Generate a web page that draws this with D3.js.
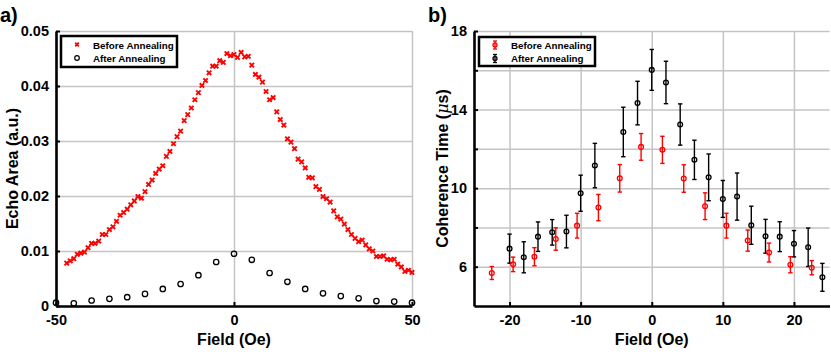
<!DOCTYPE html>
<html>
<head>
<meta charset="utf-8">
<script src="https://cdn.jsdelivr.net/npm/d3@7"></script>
<style>
  body { margin: 0; background: #fff; }
  svg text { font-family: "Liberation Sans", Arial, Helvetica, sans-serif; font-weight: bold; fill: #000; }
</style>
</head>
<body>
<svg width="831" height="354"></svg>
<script>
// panel a: echo area vs field
var beforeField = [-47,-46,-45,-44,-43,-42,-41,-40,-39,-38,-37,-36,-35,-34,-33,-32,-31,-30,-29,-28,
  -27,-26,-25,-24,-23,-22,-21,-20,-19,-18,-17,-16,-15,-14,-13,-12,-11,-10,-9,-8,-7,-6,-5,-4,-3,-2,-1,
  0,1,2,3,4,5,6,7,8,9,10,11,12,13,14,15,16,17,18,19,20,21,22,23,24,25,26,27,28,29,30,31,32,33,34,35,
  36,37,38,39,40,41,42,43,44,45,46,47,48,49,50];
var beforeArea = [0.0078,0.0082,0.0086,0.0094,0.0096,0.0098,0.0106,0.0114,0.0114,0.0118,0.0130,0.0130,
  0.0139,0.0144,0.0154,0.0165,0.0170,0.0176,0.0184,0.0191,0.0199,0.0196,0.0208,0.0221,0.0229,0.0241,
  0.0249,0.0255,0.0272,0.0281,0.0295,0.0308,0.0318,0.0337,0.0348,0.0360,0.0375,0.0388,0.0401,0.0410,
  0.0424,0.0436,0.0436,0.0446,0.0443,0.0459,0.0455,0.0457,0.0452,0.0461,0.0453,0.0454,0.0438,0.0421,
  0.0416,0.0407,0.0390,0.0375,0.0379,0.0353,0.0339,0.0329,0.0304,0.0298,0.0286,0.0267,0.0262,0.0251,
  0.0234,0.0233,0.0217,0.0212,0.0199,0.0195,0.0189,0.0173,0.0162,0.0158,0.0149,0.0139,0.0130,0.0123,
  0.0117,0.0120,0.0111,0.0104,0.0100,0.0090,0.0090,0.0091,0.0085,0.0084,0.0085,0.0076,0.0071,0.0063,
  0.0065,0.0061];
var afterField = [-50,-45,-40,-35,-30,-25,-20,-15,-10,-5,0,5,10,15,20,25,30,35,40,45,50];
var afterArea = [0.0006,0.0005,0.0010,0.0013,0.0016,0.0022,0.0031,0.0040,0.0056,0.0080,0.0095,
  0.0084,0.0060,0.0044,0.0031,0.0023,0.0018,0.0014,0.0009,0.0008,0.0006];
var areaTicks = [0, 0.01, 0.02, 0.03, 0.04, 0.05];
var fieldTicksA = [-50, 0, 50];

// panel b: coherence time vs field
var beforeT2Field = [-22.5,-19.5,-16.5,-13.5,-10.5,-7.5,-4.5,-1.5,1.5,4.5,7.5,10.5,13.5,16.5,19.5,22.5];
var beforeT2 = [5.68,6.12,6.51,7.41,8.09,9.01,10.5,12.1,11.95,10.49,9.08,8.09,7.33,6.72,6.1,5.95];
var beforeT2Err = [0.33,0.37,0.46,0.57,0.63,0.67,0.7,0.68,0.69,0.7,0.68,0.63,0.54,0.48,0.41,0.36];
var afterT2Field = [-20,-18,-16,-14,-12,-10,-8,-4,-2,0,2,4,6,8,10,12,14,16,18,20,22,24];
var afterT2 = [6.92,6.48,7.53,7.75,7.79,9.74,11.15,12.86,14.33,16.02,15.38,13.24,11.44,10.55,9.45,
  9.57,8.11,7.55,7.53,7.17,6.99,5.46];
var afterT2Err = [0.74,0.79,0.75,0.65,0.83,0.92,1.13,1.26,1.11,1.04,1.08,1.05,1.0,1.19,0.94,1.2,
  0.97,0.86,0.76,0.67,0.98,0.71];
var timeTicks = [6, 8, 10, 12, 14, 16, 18];
var timeLabels = [6, 10, 14, 18];
var fieldTicksB = [-20, -10, 0, 10, 20];

var seriesNames = ["Before Annealing", "After Annealing"];

var svg = d3.select("svg");
var gridColor = "#c4c4c4";

function drawFrame(x, y, xTicks, yTicks, xLabel, yLabel, yLabelX) {
  // grid
  svg.append("g")
    .attr("transform", "translate(" + x.range()[0] + ",0)")
    .call(d3.axisLeft(y).tickValues(yTicks).tickSize(-(x.range()[1] - x.range()[0])).tickFormat(""))
    .call(function(g) { g.select(".domain").remove(); })
    .selectAll("line").attr("stroke", gridColor).attr("stroke-width", 1.5);
  svg.append("g")
    .attr("transform", "translate(0," + y.range()[0] + ")")
    .call(d3.axisBottom(x).tickValues(xTicks).tickSize(-(y.range()[0] - y.range()[1])).tickFormat(""))
    .call(function(g) { g.select(".domain").remove(); })
    .selectAll("line").attr("stroke", gridColor).attr("stroke-width", 1.5);

  // axis labels
  svg.append("text")
    .attr("x", (x.range()[0] + x.range()[1]) / 2)
    .attr("y", 345)
    .attr("text-anchor", "middle")
    .style("font-size", "16px")
    .text(xLabel);
  var yl = svg.append("text")
    .attr("transform", "translate(" + yLabelX + "," + (y.range()[0] + y.range()[1]) / 2 + ")rotate(-90)")
    .attr("text-anchor", "middle")
    .style("font-size", "16px");
  yLabel(yl);
}

// plain hyphen for negatives, like the original figure
var fieldFormat = function(d) { return String(d); };

function drawAxes(x, y, xTicks, yTicks, yFormat) {
  var ax = svg.append("g")
    .attr("transform", "translate(" + x.range()[0] + ",0)")
    .call(d3.axisLeft(y).tickValues(yTicks).tickSizeInner(-4).tickSizeOuter(0).tickPadding(7).tickFormat(yFormat));
  var bx = svg.append("g")
    .attr("transform", "translate(0," + y.range()[0] + ")")
    .call(d3.axisBottom(x).tickValues(xTicks).tickSizeInner(-4).tickSizeOuter(0).tickPadding(9).tickFormat(fieldFormat));
  [ax, bx].forEach(function(g) {
    g.select(".domain").attr("stroke", "#000").attr("stroke-width", 2.6);
    g.selectAll(".tick line").attr("stroke", "#000").attr("stroke-width", 2);
    g.selectAll("text").attr("font-family", null).attr("font-size", null).style("font-size", "14.5px");
  });
}

function cross(sel, s) {
  sel.append("path")
    .attr("d", "M" + (-s) + "," + (-s) + "L" + s + "," + s + "M" + (-s) + "," + s + "L" + s + "," + (-s))
    .attr("stroke", "red").attr("stroke-width", 1.9).attr("fill", "none");
}

// ---------- panel a ----------
var xa = d3.scaleLinear().domain([-50, 50]).range([56, 412]);
var ya = d3.scaleLinear().domain([0, 0.05]).range([306, 31]);

drawFrame(xa, ya, fieldTicksA, areaTicks, "Field (Oe)", function(t) {
  t.text("Echo Area (a.u.)");
}, 18);

svg.append("g").selectAll("g")
  .data(beforeField.map(function(f, i) { return [f, beforeArea[i]]; }))
  .enter().append("g")
    .attr("transform", function(d) { return "translate(" + xa(d[0]) + "," + ya(d[1]) + ")"; })
    .each(function() { cross(d3.select(this), 2.2); });

svg.append("g").selectAll("circle")
  .data(afterField.map(function(f, i) { return [f, afterArea[i]]; }))
  .enter().append("circle")
    .attr("cx", function(d) { return xa(d[0]); })
    .attr("cy", function(d) { return ya(d[1]); })
    .attr("r", 2.7)
    .attr("fill", "none").attr("stroke", "#000").attr("stroke-width", 1.3);

drawAxes(xa, ya, fieldTicksA, areaTicks, function(d) { return d === 0 ? "0" : d3.format(".2f")(d); });

// legend a
svg.append("rect").attr("x", 61).attr("y", 36).attr("width", 116).attr("height", 31)
  .attr("fill", "#fff").attr("stroke", "#000").attr("stroke-width", 2.5);
cross(svg.append("g").attr("transform", "translate(77,44.5)"), 1.8);
svg.append("circle").attr("cx", 77).attr("cy", 58).attr("r", 2.3)
  .attr("fill", "none").attr("stroke", "#000").attr("stroke-width", 1.2);
svg.append("text").attr("x", 93).attr("y", 48.5).style("font-size", "9.8px").text(seriesNames[0]);
svg.append("text").attr("x", 93).attr("y", 62).style("font-size", "9.8px").text(seriesNames[1]);

svg.append("text").attr("x", 0).attr("y", 22).style("font-size", "20px").text("a)");

// ---------- panel b ----------
var xb = d3.scaleLinear().domain([-25, 25]).range([474, 829.5]);
var yb = d3.scaleLinear().domain([4, 18]).range([306, 31]);

drawFrame(xb, yb, fieldTicksB, timeTicks, "Field (Oe)", function(t) {
  t.append("tspan").text("Coherence Time (");
  t.append("tspan").style("font-style", "italic").style("font-weight", "normal")
    .attr("font-family", "DejaVu Serif").text("\u03bc");
  t.append("tspan").text("s)");
}, 448);

function errorBars(fields, vals, errs, color) {
  var data = fields.map(function(f, i) { return [f, vals[i], errs[i]]; });
  var g = svg.append("g").selectAll("g").data(data).enter().append("g")
    .attr("stroke", color).attr("stroke-width", 1.4).attr("fill", "none");
  g.append("line")
    .attr("x1", function(d) { return xb(d[0]); }).attr("x2", function(d) { return xb(d[0]); })
    .attr("y1", function(d) { return yb(d[1] + d[2]); }).attr("y2", function(d) { return yb(d[1] - d[2]); });
  g.append("line")
    .attr("x1", function(d) { return xb(d[0]) - 2.2; }).attr("x2", function(d) { return xb(d[0]) + 2.2; })
    .attr("y1", function(d) { return yb(d[1] + d[2]); }).attr("y2", function(d) { return yb(d[1] + d[2]); });
  g.append("line")
    .attr("x1", function(d) { return xb(d[0]) - 2.2; }).attr("x2", function(d) { return xb(d[0]) + 2.2; })
    .attr("y1", function(d) { return yb(d[1] - d[2]); }).attr("y2", function(d) { return yb(d[1] - d[2]); });
  g.append("circle")
    .attr("cx", function(d) { return xb(d[0]); })
    .attr("cy", function(d) { return yb(d[1]); })
    .attr("r", 2.4).attr("stroke-width", 1.3);
}

errorBars(afterT2Field, afterT2, afterT2Err, "#000");
errorBars(beforeT2Field, beforeT2, beforeT2Err, "red");

drawAxes(xb, yb, fieldTicksB, timeTicks, function(d) { return timeLabels.indexOf(d) >= 0 ? d : ""; });

// legend b
svg.append("rect").attr("x", 479).attr("y", 37).attr("width", 116).attr("height", 29)
  .attr("fill", "#fff").attr("stroke", "#000").attr("stroke-width", 2.5);
[["red", 45], ["#000", 58.5]].forEach(function(c) {
  var g = svg.append("g").attr("stroke", c[0]).attr("stroke-width", 1.3).attr("fill", "none");
  g.append("line").attr("x1", 495).attr("x2", 495).attr("y1", c[1] - 4).attr("y2", c[1] + 4);
  g.append("line").attr("x1", 493).attr("x2", 497).attr("y1", c[1] - 4).attr("y2", c[1] - 4);
  g.append("line").attr("x1", 493).attr("x2", 497).attr("y1", c[1] + 4).attr("y2", c[1] + 4);
  g.append("circle").attr("cx", 495).attr("cy", c[1]).attr("r", 2);
});
svg.append("text").attr("x", 511).attr("y", 48.5).style("font-size", "9.8px").text(seriesNames[0]);
svg.append("text").attr("x", 511).attr("y", 62).style("font-size", "9.8px").text(seriesNames[1]);

svg.append("text").attr("x", 428).attr("y", 22).style("font-size", "20px").text("b)");
</script>
</body>
</html>
